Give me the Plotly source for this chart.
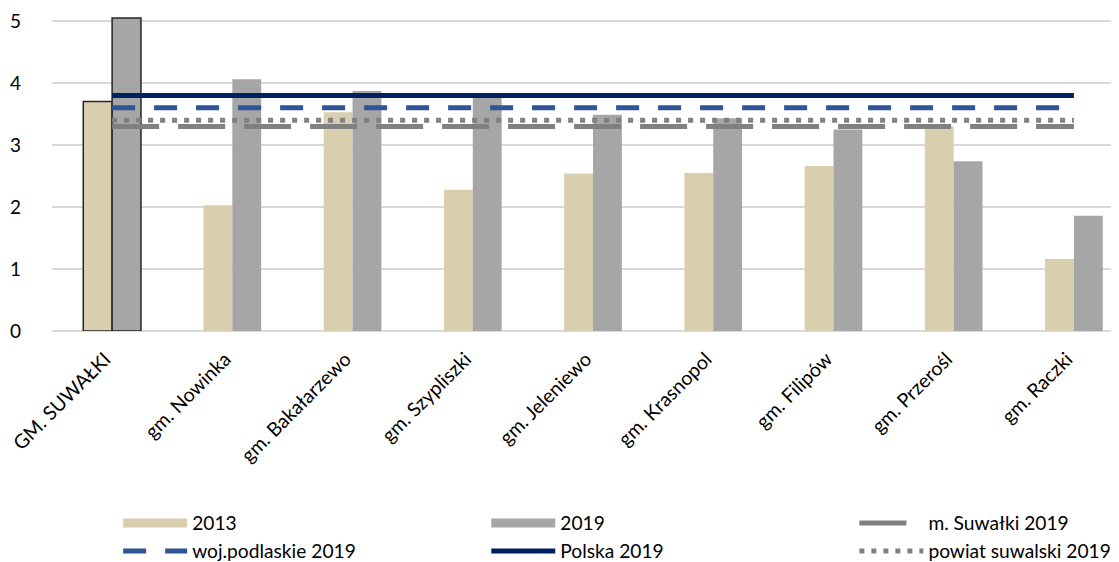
import plotly.graph_objects as go

categories = ["GM. SUWAŁKI", "gm. Nowinka", "gm. Bakałarzewo", "gm. Szypliszki", "gm. Jeleniewo",
              "gm. Krasnopol", "gm. Filipów", "gm. Przerośl", "gm. Raczki"]
v2013 = [3.70, 2.03, 3.53, 2.28, 2.54, 2.55, 2.66, 3.30, 1.16]
v2019 = [5.05, 4.06, 3.87, 3.78, 3.49, 3.43, 3.25, 2.74, 1.86]
m_suwalki = 3.30
woj_podlaskie = 3.60
polska = 3.80
powiat = 3.40
yticks = [0, 1, 2, 3, 4, 5]

FONT = "Lato"
FS = 19.2
C2013 = "#D9CEAD"
C2019 = "#A6A6A6"
outline_w = [1.5] + [0] * (len(categories) - 1)
n = len(categories)
# trailing non-breaking spaces nudge rotated labels down-left like the original
ticktext = [c + "\u00a0\u00a0" for c in categories]

fig = go.Figure()
fig.add_trace(go.Bar(x=categories, y=v2013, name="2013", showlegend=False,
                     marker=dict(color=C2013, line=dict(color="#262626", width=outline_w))))
fig.add_trace(go.Bar(x=categories, y=v2019, name="2019", showlegend=False,
                     marker=dict(color=C2019, line=dict(color="#262626", width=outline_w))))
# legend proxies for bar series (wide rectangle swatches like the original)
fig.add_trace(go.Scatter(x=[None], y=[None], name="2013", legend="legend", mode="lines",
                         line=dict(color=C2013, width=9)))
fig.add_trace(go.Scatter(x=[None], y=[None], name="2019", legend="legend2", mode="lines",
                         line=dict(color=C2019, width=9)))
fig.add_trace(go.Scatter(x=categories, y=[m_suwalki] * n, name="m. Suwałki 2019",
                         legend="legend3",
                         mode="lines", line=dict(color="#808080", width=5, dash="47px,19px")))
fig.add_trace(go.Scatter(x=categories, y=[woj_podlaskie] * n, name="woj.podlaskie 2019",
                         legend="legend",
                         mode="lines", line=dict(color="#2F5597", width=5, dash="23px,19px")))
fig.add_trace(go.Scatter(x=categories, y=[polska] * n, name="Polska 2019",
                         legend="legend2",
                         mode="lines", line=dict(color="#002060", width=5)))
fig.add_trace(go.Scatter(x=categories, y=[powiat] * n, name="powiat suwalski 2019",
                         legend="legend3",
                         mode="lines", line=dict(color="#808080", width=5, dash="5px,7px")))

leg_common = dict(orientation="v", y=-0.551, xanchor="left", yanchor="top", traceorder="normal",
                  font=dict(family=FONT, size=FS, color="#000000"), tracegroupgap=0,
                  itemwidth=64, bgcolor="rgba(0,0,0,0)")

# page body has an 8px default margin, so the figure is sized/offset to compensate
fig.update_layout(
    width=1111, height=554,
    margin=dict(l=44, r=0, t=9, b=231, autoexpand=False),
    paper_bgcolor="white", plot_bgcolor="white",
    barmode="group", bargap=0.52, bargroupgap=0,
    font=dict(family=FONT, size=FS, color="#000000"),
    showlegend=True,
    legend=dict(x=0.062, **leg_common),
    legend2=dict(x=0.407, **leg_common),
    legend3=dict(x=0.752, **leg_common),
)
fig.update_xaxes(tickangle=-45, showgrid=False, showline=False, ticks="", automargin=False,
                 range=[-0.5, n - 0.625], tickmode="array", tickvals=categories, ticktext=ticktext,
                 ticklabelstandoff=5,
                 tickfont=dict(family=FONT, size=19.5, color="#000000"))
fig.update_yaxes(range=[0, 5.065], tickvals=yticks, showgrid=True, gridcolor="#D9D9D9", gridwidth=1.5,
                 zeroline=True, zerolinecolor="#D9D9D9", zerolinewidth=1.5, showline=False,
                 automargin=False,
                 ticklabelstandoff=30, tickfont=dict(family=FONT, size=19, color="#000000"))

fig.write_html("out.html")
